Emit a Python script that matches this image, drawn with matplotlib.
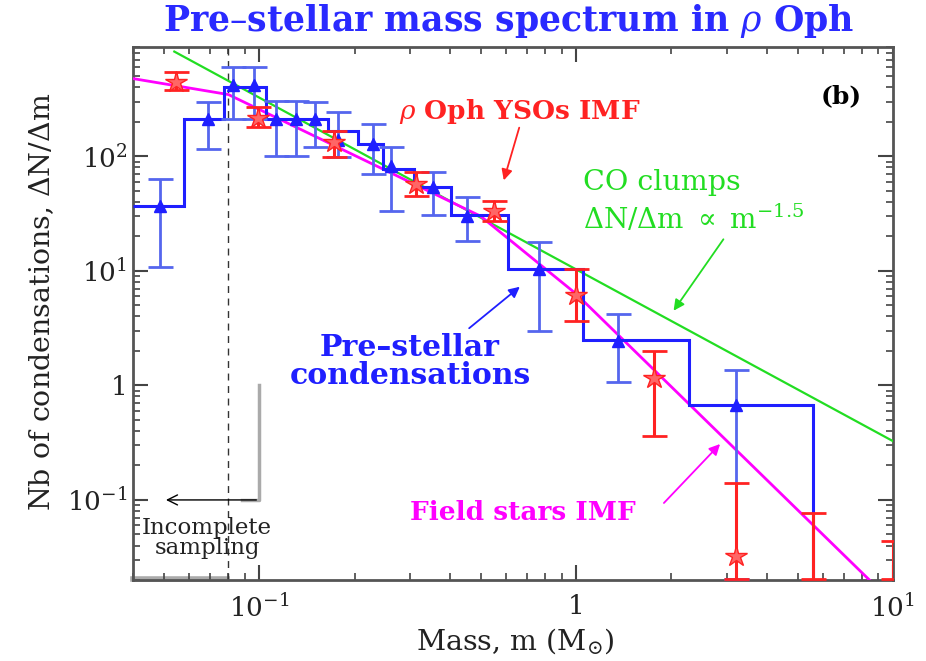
import numpy as np
import matplotlib
matplotlib.use('Agg')
import matplotlib.pyplot as plt
from matplotlib.ticker import LogLocator, FixedLocator, NullFormatter, FixedFormatter

# ---------------- data ----------------
hist_edges = [0.04, 0.058, 0.0776, 0.105, 0.165, 0.205, 0.246, 0.308, 0.404, 0.61, 1.05, 2.27, 5.6]
hist_values = [37, 210, 406, 210, 165, 127, 77, 54, 31, 10.4, 2.5, 0.67]

pre_m = [0.0488, 0.069, 0.0828, 0.0965, 0.113, 0.131, 0.150, 0.178, 0.229, 0.261, 0.354, 0.453, 0.764, 1.355, 3.20]
pre_n = [37, 210, 423, 423, 210, 210, 210, 140, 127, 82, 54, 30, 10.4, 2.46, 0.67]
pre_hi = [63, 295, 606, 606, 301, 301, 295, 246, 190, 120, 73, 44, 17.9, 4.2, 1.35]
pre_lo = [10.8, 115, 210, 210, 100, 100, 120, 98, 70, 33, 31, 18.2, 3.0, 1.08, 0.0205]

yso_m = [0.0547, 0.0993, 0.172, 0.313, 0.55, 1.0, 1.76, 3.2]
yso_n = [449, 218, 132, 57, 33, 6.1, 1.15, 0.0326]
yso_hi = [548, 267, 165, 73, 41, 10.4, 1.98, 0.14]
yso_lo = [383, 179, 98, 45, 27, 3.67, 0.36, 0.0205]

yso_lim_m = [5.6, 10.0]
yso_lim_hi = [0.077, 0.044]
yso_lim_lo = [0.0205, 0.0205]

field_m = [0.04, 0.08, 0.5, 1.0, 10.0]
field_n = [477, 346, 30, 6.3, 0.0126]

co_m = [0.054, 10.0]
co_n = [821, 0.326]

mass_limit = 0.08
incomplete_m = [0.1, 0.1, 0.088]
incomplete_n = [1.0, 0.1, 0.1]

xtick_vals = [0.1, 1, 10]
xtick_labels = [r'$10^{-1}$', '1', r'$10^{1}$']
ytick_vals = [0.1, 1, 10, 100]
ytick_labels = [r'$10^{-1}$', '1', r'$10^{1}$', r'$10^{2}$']

# ---------------- figure ----------------
plt.rcParams['font.family'] = ['DejaVu Serif']
plt.rcParams['mathtext.fontset'] = 'dejavuserif'

W, H = 926, 661
fig = plt.figure(figsize=(W / 100, H / 100), dpi=100)
L, R, T, B = 133, 893, 47, 580
ax = fig.add_axes([L / W, 1 - B / H, (R - L) / W, (B - T) / H])
ax.set_xscale('log')
ax.set_yscale('log')
ax.set_xlim(0.04, 10)
ax.set_ylim(0.02, 900)

def P(x, y):
    return (x / W, 1 - y / H)

BLUE = '#1f1fff'
EBLUE = '#5566ee'
RED = '#ff2222'
MAG = '#ff00ff'
GREEN = '#22dd22'

# lines
ax.plot(co_m, co_n, color=GREEN, lw=1.6, zorder=3)
ax.plot(field_m, field_n, color=MAG, lw=2.0, zorder=3)

# histogram
ax.stairs(hist_values, hist_edges, color=BLUE, lw=2.2, zorder=4, baseline=None)
ax.plot([hist_edges[-1], hist_edges[-1]], [hist_values[-1], 0.001], color=BLUE, lw=2.2, zorder=4)

# pre-stellar points
pre_m_a = np.array(pre_m); pre_n_a = np.array(pre_n)
ax.errorbar(pre_m_a, pre_n_a,
            yerr=[pre_n_a - np.array(pre_lo), np.array(pre_hi) - pre_n_a],
            fmt='^', color=BLUE, ecolor=EBLUE, elinewidth=2.0, capsize=9, capthick=2.0,
            ms=8, zorder=5)

# YSO points
yso_n_a = np.array(yso_n)
ax.errorbar(yso_m, yso_n_a,
            yerr=[yso_n_a - np.array(yso_lo), np.array(yso_hi) - yso_n_a],
            fmt='*', color=RED, ecolor=RED, elinewidth=2.2, capsize=9, capthick=2.0,
            ms=16, mec=RED, mfc='#ff6666', zorder=6)
lim_hi = np.array(yso_lim_hi)
ax.errorbar(yso_lim_m, lim_hi, yerr=[lim_hi - np.array(yso_lim_lo), np.zeros(len(lim_hi))],
            fmt='none', ecolor=RED, elinewidth=2.2, capsize=9, capthick=2.0, zorder=6)

# dashed limit
ax.axvline(mass_limit, color='#333333', lw=1.0, ls=(0, (5, 4)), zorder=2)

# incomplete sampling marker
ax.plot(incomplete_m, incomplete_n, color='#aaaaaa', lw=2.5, zorder=2)
ax.plot([0.04, mass_limit * 0.99], [0.0205, 0.0205], color='#aaaaaa', lw=4, zorder=1, clip_on=False)
ax.annotate('', xy=(0.0498, 0.1), xytext=(0.1, 0.1),
            arrowprops=dict(arrowstyle='->', color='black', lw=1.0, mutation_scale=18), zorder=6)

# ticks
ax.xaxis.set_major_locator(FixedLocator(xtick_vals))
ax.xaxis.set_major_formatter(FixedFormatter(xtick_labels))
ax.yaxis.set_major_locator(FixedLocator(ytick_vals))
ax.yaxis.set_major_formatter(FixedFormatter(ytick_labels))
ax.xaxis.set_minor_locator(LogLocator(base=10, subs=np.arange(2, 10), numticks=20))
ax.yaxis.set_minor_locator(LogLocator(base=10, subs=np.arange(2, 10), numticks=20))
ax.xaxis.set_minor_formatter(NullFormatter())
ax.yaxis.set_minor_formatter(NullFormatter())
ax.tick_params(which='both', direction='in', top=True, right=True, colors='#444444',
               labelcolor='#222222', labelsize=19)
ax.tick_params(which='major', length=11, width=1.5)
ax.tick_params(which='minor', length=5, width=1.2)
ax.tick_params(axis='x', pad=10)
ax.tick_params(axis='y', pad=4)
for s in ax.spines.values():
    s.set_color('#555555')
    s.set_linewidth(2.0)

# labels
fig.text(*P(515, 641), r'Mass, m (M$_{\odot}$)', ha='center', va='center', fontsize=20.5, color='#222222')
fig.text(*P(42, 302), r'Nb of condensations, $\Delta$N/$\Delta$m', ha='center', va='center',
         rotation=90, fontsize=20.5, color='#222222')
fig.text(*P(509, 21), r'Pre–stellar mass spectrum in $\rho$ Oph', ha='center', va='center',
         fontsize=25, fontweight='bold', color='#2a2aff')

# annotations
fig.text(*P(841, 96), '(b)', ha='center', va='center', fontsize=18, fontweight='bold', color='black')
fig.text(*P(520, 112), r'$\rho$ Oph YSOs IMF', ha='center', va='center', fontsize=19,
         fontweight='bold', color=RED)
fig.text(*P(583, 182), 'CO clumps', ha='left', va='center', fontsize=20.5, color=GREEN)
fig.text(*P(583, 219), r'$\Delta$N/$\Delta$m $\propto$ m$^{-1.5}$', ha='left', va='center',
         fontsize=20, color=GREEN)
fig.text(*P(410, 347), 'Pre–stellar', ha='center', va='center', fontsize=21.5,
         fontweight='bold', color=BLUE)
fig.text(*P(410, 376), 'condensations', ha='center', va='center', fontsize=21.5,
         fontweight='bold', color=BLUE)
fig.text(*P(523, 512), 'Field stars IMF', ha='center', va='center', fontsize=19,
         fontweight='bold', color=MAG)
fig.text(*P(207, 528), 'Incomplete', ha='center', va='center', fontsize=16.5, color='#222222')
fig.text(*P(207, 548), 'sampling', ha='center', va='center', fontsize=16.5, color='#222222')

def arrow(x0, y0, x1, y1, c):
    fig.patches.append(matplotlib.patches.FancyArrowPatch(
        P(x0, y0), P(x1, y1), transform=fig.transFigure, arrowstyle='-|>',
        mutation_scale=16, color=c, lw=1.3))

arrow(520, 125, 503, 183, RED)
arrow(467, 330, 522, 285, BLUE)
arrow(725, 237, 672, 313, GREEN)
arrow(662, 505, 722, 442, MAG)

fig.savefig('out.png', dpi=100, facecolor='white')
